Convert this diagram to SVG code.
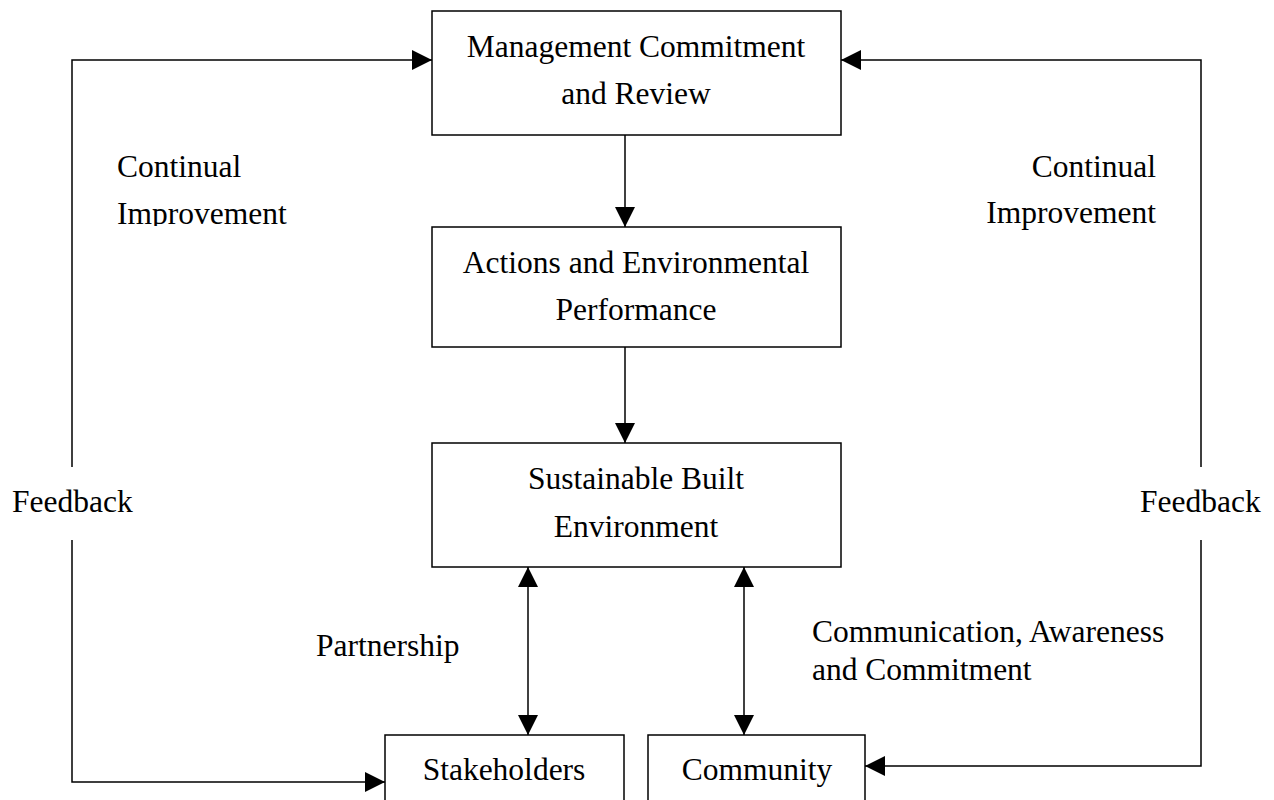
<svg xmlns="http://www.w3.org/2000/svg" width="1274" height="800" viewBox="0 0 1274 800">
  <style>
    .box { fill: #ffffff; stroke: #000000; stroke-width: 1.5; }
    .wire { fill: none; stroke: #000000; stroke-width: 1.5; }
    .t { font-family: "Liberation Serif", "Times New Roman", serif; font-size: 31.5px; fill: #000000; }
    .c { text-anchor: middle; }
    .r { text-anchor: end; }
  </style>
  <defs>
    <marker id="head" markerUnits="userSpaceOnUse" markerWidth="20" markerHeight="20" refX="20" refY="10" orient="auto-start-reverse">
      <path d="M0,0 L20,10 L0,20 z" fill="#000000"/>
    </marker>
    <clipPath id="leftLabelClip">
      <rect x="0" y="0" width="400" height="226"/>
    </clipPath>
  </defs>
  <rect width="1274" height="800" fill="#ffffff"/>

  <!-- connectors -->
  <g id="connectors">
    <path class="wire" d="M625,135 V227" marker-end="url(#head)"/>
    <path class="wire" d="M625,347 V443" marker-end="url(#head)"/>
    <path class="wire" d="M528,567 V735" marker-start="url(#head)" marker-end="url(#head)"/>
    <path class="wire" d="M744,567 V735" marker-start="url(#head)" marker-end="url(#head)"/>
    <path class="wire" d="M72,467 V60 H432" marker-end="url(#head)"/>
    <path class="wire" d="M72,540 V782 H385" marker-end="url(#head)"/>
    <path class="wire" d="M1201,467 V60 H841" marker-end="url(#head)"/>
    <path class="wire" d="M1201,540 V766 H865" marker-end="url(#head)"/>
  </g>

  <!-- connector labels -->
  <g id="labels">
    <g clip-path="url(#leftLabelClip)">
      <text class="t" x="117" y="177">Continual</text>
      <text class="t" x="117" y="224">Improvement</text>
    </g>
    <text class="t r" x="1156" y="177">Continual</text>
    <text class="t r" x="1156" y="223">Improvement</text>
    <text class="t" x="12" y="512">Feedback</text>
    <text class="t" x="1140" y="512">Feedback</text>
    <text class="t" x="316" y="656">Partnership</text>
    <text class="t" x="812" y="642">Communication, Awareness</text>
    <text class="t" x="812" y="680">and Commitment</text>
  </g>

  <g id="management">
    <rect class="box" x="432" y="11" width="409" height="124"/>
    <text class="t c" x="636" y="57">Management Commitment</text>
    <text class="t c" x="636" y="104">and Review</text>
  </g>

  <g id="actions">
    <rect class="box" x="432" y="227" width="409" height="120"/>
    <text class="t c" x="636" y="273">Actions and Environmental</text>
    <text class="t c" x="636" y="320">Performance</text>
  </g>

  <g id="sustainable">
    <rect class="box" x="432" y="443" width="409" height="124"/>
    <text class="t c" x="636" y="489">Sustainable Built</text>
    <text class="t c" x="636" y="537">Environment</text>
  </g>

  <g id="stakeholders">
    <rect class="box" x="385" y="735" width="239" height="80"/>
    <text class="t c" x="504" y="780">Stakeholders</text>
  </g>

  <g id="community">
    <rect class="box" x="648" y="735" width="217" height="80"/>
    <text class="t c" x="757" y="780">Community</text>
  </g>
</svg>
